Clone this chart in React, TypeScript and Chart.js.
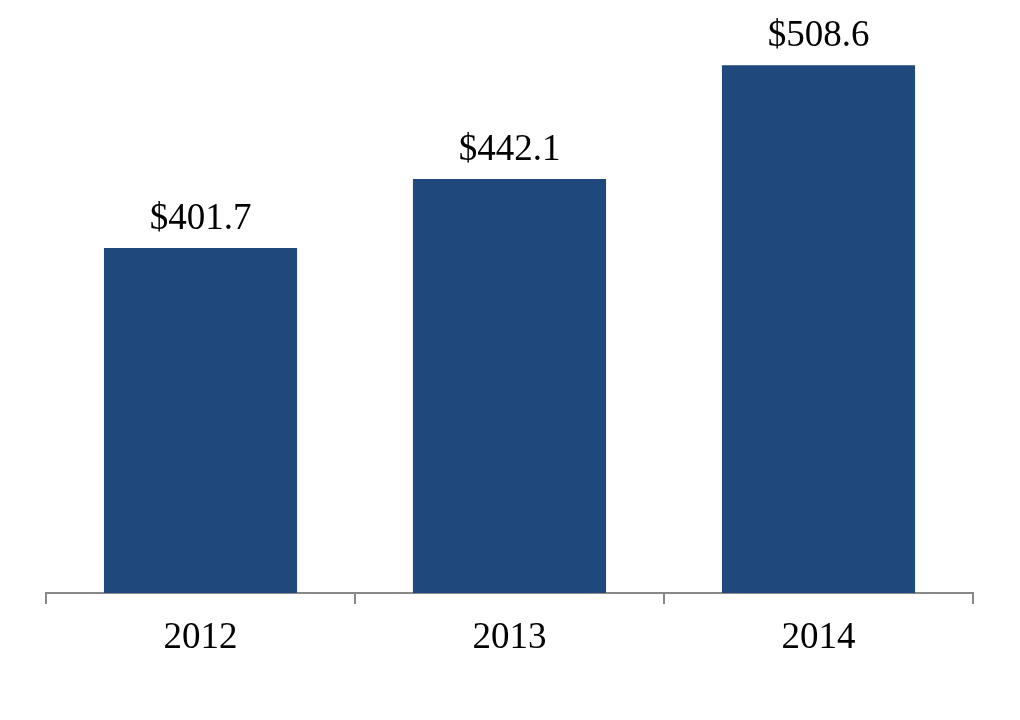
import { useRef, useEffect } from 'react';
import Chart from 'chart.js/auto';

const years = ['2012', '2013', '2014'];
const revenue = [401.7, 442.1, 508.6];
const revenueLabels = ['$401.7', '$442.1', '$508.6'];

const serif = '"Liberation Serif", "Times New Roman", serif';

const barLabels = {
  id: 'barLabels',
  afterDatasetsDraw(chart: any) {
    const ctx = chart.ctx;
    const meta = chart.getDatasetMeta(0);
    ctx.save();
    ctx.font = `37px ${serif}`;
    ctx.fillStyle = '#000';
    ctx.textAlign = 'center';
    ctx.textBaseline = 'alphabetic';
    meta.data.forEach((bar: any, i: number) => {
      ctx.fillText(revenueLabels[i], bar.x, bar.y - 19);
    });
    ctx.restore();
  },
};

const App = () => {
  const chartRef = useRef<HTMLCanvasElement | null>(null);

  useEffect(() => {
    const chart = new Chart(chartRef.current!, {
      type: 'bar',
      data: {
        labels: years,
        datasets: [
          {
            label: 'Revenue',
            data: revenue,
            backgroundColor: '#1F497D',
            barPercentage: 0.625,
            categoryPercentage: 1,
          },
        ],
      },
      options: {
        animation: false,
        responsive: false,
        layout: { padding: { left: 46, right: 47, top: 11.5, bottom: 47.5 } },
        plugins: {
          legend: { display: false },
          tooltip: { enabled: false },
        },
        scales: {
          x: {
            grid: {
              offset: true,
              drawOnChartArea: false,
              drawTicks: true,
              tickLength: 11,
              color: '#888888',
              lineWidth: 2,
            },
            border: { display: true, color: '#888888', width: 2 },
            ticks: {
              color: '#000',
              font: { family: serif, size: 37 },
              padding: 12,
            },
          },
          y: {
            display: false,
            min: 200,
            max: 540,
          },
        },
      },
      plugins: [barLabels],
    });
    return () => {
      chart.destroy();
    };
  }, []);

  return (
    <div style={{ position: 'fixed', left: 0, top: 0, width: 1020, height: 720, background: '#fff' }}>
      <canvas ref={chartRef} width={1020} height={720} />
    </div>
  );
};

export default App;
